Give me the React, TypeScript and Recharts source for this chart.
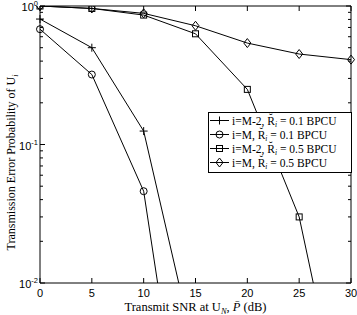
import React from "react";
import { LineChart, Line, XAxis, YAxis, Legend, Label } from "recharts";

// 送信SNR (dB)
const snr = [0, 5, 10, 15, 20, 25, 30];
// 誤り確率（グラフ外に出る点も線を引くために1点だけ残す）
const pM2Low = [0.805, 0.5, 0.125, 0.003, null, null, null];
const pMLow = [0.68, 0.32, 0.046, 0.00016, null, null, null];
const pM2High = [1.0, 0.96, 0.86, 0.63, 0.25, 0.03, 0.00053];
const pMHigh = [1.0, 0.96, 0.885, 0.72, 0.54, 0.45, 0.41];

const xTicks = [0, 5, 10, 15, 20, 25, 30];
const yTicks = [
  0.01, 0.02, 0.03, 0.04, 0.05, 0.06, 0.07, 0.08, 0.09,
  0.1, 0.2, 0.3, 0.4, 0.5, 0.6, 0.7, 0.8, 0.9, 1,
];
const yMajor: Record<string, string> = { "0.01": "-2", "0.1": "-1", "1": "0" };

const seriesNames = ["i=M-2", "i=M", "i=M-2", "i=M"];
const seriesRates = ["0.1", "0.1", "0.5", "0.5"];
const seriesMarks = ["plus", "circle", "square", "diamond"];
const seriesKeys = ["m2low", "mlow", "m2high", "mhigh"];

const data = snr.map((s, i) => ({
  snr: s,
  m2low: pM2Low[i],
  mlow: pMLow[i],
  m2high: pM2High[i],
  mhigh: pMHigh[i],
}));

const SANS = "'Liberation Sans', Arial, sans-serif";
const SERIF = "'Liberation Serif', 'DejaVu Serif', serif";

function Marker({ kind, cx, cy }: { kind: string; cx: number; cy: number }) {
  const p = { fill: "none", stroke: "#000", strokeWidth: 1 };
  if (kind === "plus")
    return (
      <g>
        <line x1={cx - 4} x2={cx + 4} y1={cy} y2={cy} {...p} />
        <line x1={cx} x2={cx} y1={cy - 4} y2={cy + 4} {...p} />
      </g>
    );
  if (kind === "circle") return <circle cx={cx} cy={cy} r={3.5} {...p} />;
  if (kind === "square") return <rect x={cx - 3} y={cy - 3} width={6} height={6} {...p} />;
  return <path d={`M${cx},${cy - 4.5}L${cx + 3.5},${cy}L${cx},${cy + 4.5}L${cx - 3.5},${cy}Z`} {...p} />;
}

const makeDot = (kind: string) => (props: any) => {
  const { cx, cy, value, index } = props;
  const v = Array.isArray(value) ? value[1] : value;
  if (v == null || v < 0.01 || cx == null || cy == null) return <g key={index} />;
  return <Marker key={index} kind={kind} cx={cx} cy={cy} />;
};

const BottomTick = ({ x, y, payload }: any) => (
  <g>
    <line x1={x} x2={x} y1={y} y2={y - 5} stroke="#000" />
    <text x={x} y={y + 14} textAnchor="middle" fontSize={11} fontFamily={SANS} fill="#000">
      {payload.value}
    </text>
  </g>
);

const TopTick = ({ x, y }: any) => <line x1={x} x2={x} y1={y} y2={y + 5} stroke="#000" />;

const LeftTick = ({ x, y, payload }: any) => {
  const exp = yMajor[String(payload.value)];
  const len = exp ? 5 : 3;
  return (
    <g>
      <line x1={x} x2={x + len} y1={y} y2={y} stroke="#000" />
      {exp && (
        <text x={x - 2} y={y + 5} textAnchor="end" fontSize={11} fontFamily={SANS} fill="#000">
          10
          <tspan dy={-5} fontSize={7.5}>
            {exp}
          </tspan>
        </text>
      )}
    </g>
  );
};

const RightTick = ({ x, y, payload }: any) => {
  const len = yMajor[String(payload.value)] ? 5 : 3;
  return <line x1={x} x2={x - len} y1={y} y2={y} stroke="#000" />;
};

// 凡例はSVGで描く
const LegendBox = () => (
  <svg width={144} height={61} style={{ display: "block" }}>
    <rect x={0.5} y={0.5} width={143} height={60} fill="#fff" stroke="#000" />
    {seriesKeys.map((k, i) => {
      const cy = 8.5 + i * 14;
      return (
        <g key={k}>
          <line x1={2} x2={21} y1={cy} y2={cy} stroke="#000" />
          <Marker kind={seriesMarks[i]} cx={11.5} cy={cy} />
          <text x={24} y={cy + 4} fontSize={11.5} fontFamily={SERIF} fill="#000">
            {seriesNames[i]}, R{"\u0306"}
            <tspan dy={2} fontSize={7.5} fontStyle="italic">i</tspan>
            <tspan dy={-2}> = {seriesRates[i]} BPCU</tspan>
          </text>
        </g>
      );
    })}
  </svg>
);

export default function App() {
  return (
    <div style={{ position: "absolute", left: 0, top: 0, background: "#fff" }}>
      <LineChart width={357} height={315} data={data} margin={{ top: 0, right: 0, bottom: 0, left: 0 }}>
        <XAxis
          dataKey="snr"
          type="number"
          domain={[0, 30]}
          ticks={xTicks}
          interval={0}
          height={32}
          tickSize={0}
          tickMargin={0}
          tickLine={false}
          tick={<BottomTick />}
          stroke="#000"
        >
          <Label
            content={({ viewBox }: any) => (
              <text
                x={viewBox.x + viewBox.width / 2}
                y={viewBox.y + 28}
                textAnchor="middle"
                fontSize={12.5}
                fontFamily={SERIF}
                fill="#000"
              >
                Transmit SNR at U<tspan dy={2.5} fontSize={8.5} fontStyle="italic">N</tspan>
                <tspan dy={-2.5}>, </tspan>
                <tspan fontStyle="italic">P{"\u0304"}</tspan> (dB)
              </text>
            )}
          />
        </XAxis>
        <XAxis
          xAxisId="top"
          orientation="top"
          dataKey="snr"
          type="number"
          domain={[0, 30]}
          ticks={xTicks}
          interval={0}
          height={6}
          tickSize={0}
          tickMargin={0}
          tickLine={false}
          tick={<TopTick />}
          stroke="#000"
        />
        <YAxis
          type="number"
          scale="log"
          domain={[0.01, 1]}
          allowDataOverflow
          ticks={yTicks}
          interval={0}
          width={40}
          tickSize={0}
          tickMargin={0}
          tickLine={false}
          tick={<LeftTick />}
          stroke="#000"
        >
          <Label
            content={({ viewBox }: any) => {
              const cx = 15;
              const cy = viewBox.y + viewBox.height / 2 + 18;
              return (
                <text
                  x={cx}
                  y={cy}
                  transform={`rotate(-90 ${cx} ${cy})`}
                  textAnchor="middle"
                  fontSize={12}
                  fontFamily={SERIF}
                  fill="#000"
                >
                  Transmission Error Probability of U
                  <tspan dy={3} fontSize={8} fontStyle="italic">i</tspan>
                </text>
              );
            }}
          />
        </YAxis>
        <YAxis
          yAxisId="right"
          orientation="right"
          type="number"
          scale="log"
          domain={[0.01, 1]}
          allowDataOverflow
          ticks={yTicks}
          interval={0}
          width={6}
          tickSize={0}
          tickMargin={0}
          tickLine={false}
          tick={<RightTick />}
          stroke="#000"
        />
        {seriesKeys.map((k, i) => (
          <Line
            key={k}
            dataKey={k}
            stroke="#000"
            strokeWidth={1}
            dot={makeDot(seriesMarks[i])}
            activeDot={false}
            isAnimationActive={false}
            legendType="none"
          />
        ))}
        <Legend
          layout="vertical"
          align="center"
          verticalAlign="middle"
          content={<LegendBox />}
          wrapperStyle={{ left: 208, top: 112, width: "auto" }}
        />
      </LineChart>
    </div>
  );
}
